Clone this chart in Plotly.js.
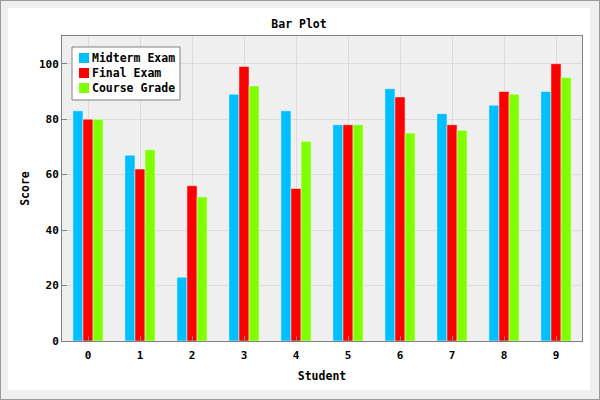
<!DOCTYPE html>
<html>
<head>
<meta charset="utf-8">
<script src="https://cdn.plot.ly/plotly-3.0.1.min.js"></script>
<style>
  html, body { margin: 0; padding: 0; }
  #frame { width: 600px; height: 400px; box-sizing: border-box; border: 1px solid #9a9a9a; background: #efefef; position: relative; }
  #chart { position: absolute; left: 7px; top: 7px; width: 582px; height: 382px; border-radius: 3px; overflow: hidden; background: #fff; }
</style>
</head>
<body>
<div id="frame"><div id="chart"></div></div>
<script>
const students = ['0','1','2','3','4','5','6','7','8','9'];
const midterm = [83, 67, 23, 89, 83, 78, 91, 82, 85, 90];
const finalExam = [80, 62, 56, 99, 55, 78, 88, 78, 90, 100];
const courseGrade = [80, 69, 52, 92, 72, 78, 75, 76, 89, 95];
const seriesNames = ['Midterm Exam', 'Final Exam', 'Course Grade'];
const seriesColors = ['#00bfff', '#ff0000', '#7fff00'];
const seriesValues = [midterm, finalExam, courseGrade];

const FONT = 'DejaVu Sans Mono, monospace';
const W = 582, H = 382;
const M = { l: 54, r: 8, t: 28, b: 49 };
const PW = W - M.l - M.r, PH = H - M.t - M.b;
// pixel offsets within the plot area -> paper coordinates
const px = v => v / PW;
const py = v => 1 - v / PH;

const traces = seriesValues.map((vals, i) => ({
  type: 'bar',
  name: seriesNames[i],
  x: students,
  y: vals,
  marker: { color: seriesColors[i], line: { color: 'rgba(255,255,255,0.45)', width: 1 } },
  hoverinfo: 'x+y+name'
}));

const axisCommon = {
  showline: true, linecolor: '#808080', linewidth: 1, mirror: true,
  ticks: 'inside', ticklen: 5, tickcolor: '#808080',
  showgrid: true, gridcolor: '#dcdcdc', gridwidth: 1,
  zeroline: false,
  tickfont: { family: FONT, size: 11, color: '#000', weight: 'bold' }
};

// custom legend (box, swatches, labels) in the top-left corner of the plot
const legendLeft = 10, legendTop = 11, legendRight = 118, legendBottom = 64;
const rowY = [22, 37, 52];
const shapes = [{
  type: 'rect', xref: 'paper', yref: 'paper', layer: 'above',
  x0: px(legendLeft), x1: px(legendRight), y0: py(legendTop), y1: py(legendBottom),
  fillcolor: '#ffffff', line: { color: '#808080', width: 1 }
}];
const annotations = [];
seriesNames.forEach((name, i) => {
  shapes.push({
    type: 'rect', xref: 'paper', yref: 'paper', layer: 'above',
    x0: px(legendLeft + 7), x1: px(legendLeft + 17), y0: py(rowY[i] - 5), y1: py(rowY[i] + 5),
    fillcolor: seriesColors[i], line: { width: 0 }
  });
  annotations.push({
    xref: 'paper', yref: 'paper', x: px(legendLeft + 18), y: py(rowY[i]),
    xanchor: 'left', yanchor: 'middle', showarrow: false, text: name,
    font: { family: FONT, size: 11.5, color: '#000', weight: 'bold' }
  });
});

const layout = {
  width: W, height: H,
  paper_bgcolor: '#ffffff',
  plot_bgcolor: '#efefef',
  margin: M,
  barmode: 'group',
  bargap: 0.42,
  bargroupgap: 0,
  showlegend: false,
  title: { text: 'Bar Plot', x: 0.5, xanchor: 'center', y: 0.959, yanchor: 'middle',
           font: { family: FONT, size: 11.5, color: '#000', weight: 'bold' } },
  xaxis: Object.assign({}, axisCommon, {
    type: 'category',
    range: [-0.5, 9.5],
    ticklabelstandoff: 4,
    title: { text: 'Student', standoff: 10, font: { family: FONT, size: 11.5, color: '#000', weight: 'bold' } }
  }),
  yaxis: Object.assign({}, axisCommon, {
    range: [0, 110],
    dtick: 20, tick0: 0,
    title: { text: 'Score', standoff: 6, font: { family: FONT, size: 11.5, color: '#000', weight: 'bold' } }
  }),
  shapes: shapes,
  annotations: annotations
};

Plotly.newPlot('chart', traces, layout, { displayModeBar: false, staticPlot: true });
</script>
</body>
</html>
